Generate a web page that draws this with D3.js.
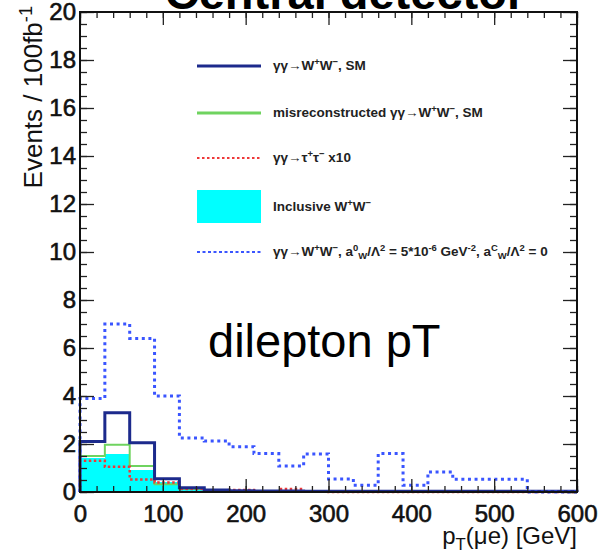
<!DOCTYPE html>
<html>
<head>
<meta charset="utf-8">
<script src="https://cdn.jsdelivr.net/npm/d3@7"></script>
<style>
  body { margin: 0; background: #fff; }
  svg { display: block; font-family: "Liberation Sans", Arial, sans-serif; }
</style>
</head>
<body>
<div id="chart"></div>
<script>
// bin edges in GeV (30 GeV bins)
var binEdges = [0, 30, 60, 90, 120, 150, 180, 210, 240, 270, 300, 330, 360, 390, 420, 450, 480, 510, 540, 570, 600];

// events / 100 fb^-1 per bin
var smWW        = [2.1, 3.3, 2.05, 0.55, 0.18, 0.08, 0.05, 0.04, 0.04, 0.03, 0.03, 0.03, 0.03, 0.03, 0.03, 0.03, 0.03, 0.03, 0.03, 0.03];
var misrecoWW   = [1.5, 1.97, 1.08, 0.32, 0.12, 0.05, 0.04, 0.02, 0, 0, 0, 0, 0, 0, 0, 0, 0, 0, 0, 0];
var tautauX10   = [1.3, 1.05, 0.52, 0.4, 0.12, 0.05, 0.08, 0.03, 0.12, 0.02, 0, 0, 0, 0, 0, 0, 0, 0, 0, 0];
var inclusiveWW = [1.4, 1.6, 0.92, 0.42, 0.1, 0.03, 0.01, 0, 0, 0, 0, 0, 0, 0, 0, 0, 0, 0, 0, 0];
var anomalousWW = [3.9, 7.0, 6.4, 4.0, 2.25, 2.12, 1.89, 1.6, 1.08, 1.58, 0.54, 0.28, 1.6, 0.28, 0.83, 0.53, 0.53, 0.53, 0, 0];

var xTicks = [0, 100, 200, 300, 400, 500, 600];
var yTicks = [0, 2, 4, 6, 8, 10, 12, 14, 16, 18, 20];

var W = 604, H = 556;
var margin = {top: 12, right: 27, bottom: 64, left: 80};
var width = W - margin.left - margin.right,
    height = H - margin.top - margin.bottom;

var svg = d3.select("#chart").append("svg")
    .attr("width", W)
    .attr("height", H);

// title, cut off at the top like in the original
svg.append("text")
    .attr("x", 345).attr("y", 9)
    .attr("text-anchor", "middle")
    .style("font-size", "47px").style("font-weight", "bold")
    .text("Central detector");

var g = svg.append("g")
    .attr("transform", "translate(" + margin.left + "," + margin.top + ")");

var x = d3.scaleLinear().domain([0, 600]).range([0, width]);
var y = d3.scaleLinear().domain([0, 20]).range([height, 0]);

// step outline for a histogram
function stepPoints(vals) {
    var pts = [[binEdges[0], 0]];
    vals.forEach(function (v, i) {
        pts.push([binEdges[i], v]);
        pts.push([binEdges[i + 1], v]);
    });
    pts.push([binEdges[binEdges.length - 1], 0]);
    return pts;
}
var line = d3.line()
    .x(function (d) { return x(d[0]); })
    .y(function (d) { return y(d[1]); });

// inclusive WW, filled
g.selectAll(".incl")
    .data(inclusiveWW)
    .enter().append("rect")
    .attr("class", "incl")
    .attr("x", function (d, i) { return x(binEdges[i]); })
    .attr("width", function (d, i) { return x(binEdges[i + 1]) - x(binEdges[i]); })
    .attr("y", function (d) { return y(d); })
    .attr("height", function (d) { return y(0) - y(d); })
    .style("fill", "#00ffff")
    .style("shape-rendering", "crispEdges");

var series = [
    {vals: misrecoWW,   color: "#6fd35f", w: 2,   dash: null},
    {vals: tautauX10,   color: "#ee3838", w: 2.5, dash: "2.5,2.5"},
    {vals: smWW,        color: "#1c2a8c", w: 3,   dash: null},
    {vals: anomalousWW, color: "#3a55ff", w: 3,   dash: "3,3.6"}
];
series.forEach(function (s) {
    g.append("path")
        .datum(stepPoints(s.vals))
        .attr("d", line)
        .style("fill", "none")
        .style("stroke", s.color)
        .style("stroke-width", s.w)
        .style("stroke-dasharray", s.dash);
});

// axes, ticks pointing inward on all four sides
function styleAxis(sel) {
    sel.select(".domain").remove();
    sel.selectAll("line").style("stroke", "#222").style("stroke-width", 1.3);
    sel.selectAll("text")
        .style("font-size", "24px")
        .style("fill", "#111")
        .style("stroke", "#111").style("stroke-width", 0.6)
        .style("font-family", "'Liberation Sans', Arial, sans-serif");
}
var xMinor = x.ticks(30), yMinor = y.ticks(40);

g.append("g").attr("transform", "translate(0," + height + ")")
    .call(d3.axisBottom(x).tickValues(xMinor).tickSize(-6).tickFormat(""))
    .call(styleAxis);
g.append("g").attr("transform", "translate(0," + height + ")")
    .call(d3.axisBottom(x).tickValues(xTicks).tickSize(-13).tickPadding(13).tickFormat(d3.format("d")))
    .call(styleAxis);
g.append("g")
    .call(d3.axisTop(x).tickValues(xMinor).tickSize(-6).tickFormat(""))
    .call(styleAxis);
g.append("g")
    .call(d3.axisTop(x).tickValues(xTicks).tickSize(-13).tickFormat(""))
    .call(styleAxis);

g.append("g")
    .call(d3.axisLeft(y).tickValues(yMinor).tickSize(-7).tickFormat(""))
    .call(styleAxis);
g.append("g")
    .call(d3.axisLeft(y).tickValues(yTicks).tickSize(-14).tickPadding(4).tickFormat(d3.format("d")))
    .call(styleAxis);
g.append("g").attr("transform", "translate(" + width + ",0)")
    .call(d3.axisRight(y).tickValues(yMinor).tickSize(-7).tickFormat(""))
    .call(styleAxis);
g.append("g").attr("transform", "translate(" + width + ",0)")
    .call(d3.axisRight(y).tickValues(yTicks).tickSize(-14).tickFormat(""))
    .call(styleAxis);

// frame
g.append("rect")
    .attr("width", width).attr("height", height)
    .style("fill", "none").style("stroke", "#111").style("stroke-width", 2);

// rich text with super/subscripts
function rich(sel, parts, size) {
    var cur = 0;
    parts.forEach(function (p) {
        var target = 0, fs = size;
        if (p[1] === "sup") { target = -0.38 * size; fs = 0.7 * size; }
        if (p[1] === "sub") { target = 0.25 * size; fs = 0.7 * size; }
        sel.append("tspan")
            .attr("dy", target - cur)
            .style("font-size", fs + "px")
            .text(p[0]);
        cur = target;
    });
}

// axis titles
var yt = svg.append("text")
    .attr("transform", "translate(42,6) rotate(-90)")
    .attr("text-anchor", "end")
    .style("fill", "#111");
rich(yt, [["Events / 100fb", ""], ["-1", "sup"]], 26);

var xt = svg.append("text")
    .attr("x", 577).attr("y", 544)
    .attr("text-anchor", "end")
    .style("fill", "#111");
rich(xt, [["p", ""], ["T", "sub"], ["(\u03bce) [GeV]", ""]], 24);

// annotation
g.append("text")
    .attr("x", 128).attr("y", 345)
    .style("font-size", "47px")
    .text("dilepton pT");

// legend
var legendItems = [
    {y: 66,  type: "line", color: "#1c2a8c", w: 3, dash: null,
     parts: [["\u03b3\u03b3\u2192W", ""], ["+", "sup"], ["W", ""], ["\u2212", "sup"], [", SM", ""]]},
    {y: 113, type: "line", color: "#6fd35f", w: 3, dash: null,
     parts: [["misreconstructed ", ""], ["\u03b3\u03b3\u2192W", ""], ["+", "sup"], ["W", ""], ["\u2212", "sup"], [", SM", ""]]},
    {y: 158, type: "line", color: "#ee3838", w: 2, dash: "2.5,2.5",
     parts: [["\u03b3\u03b3\u2192\u03c4", ""], ["+", "sup"], ["\u03c4", ""], ["\u2212", "sup"], [" x10", ""]]},
    {y: 207, type: "box", color: "#00ffff",
     parts: [["Inclusive W", ""], ["+", "sup"], ["W", ""], ["\u2212", "sup"]]},
    {y: 252, type: "line", color: "#3a55ff", w: 2, dash: "3,2.5",
     parts: [["\u03b3\u03b3\u2192W", ""], ["+", "sup"], ["W", ""], ["\u2212", "sup"], [", a", ""], ["0", "sup"], ["W", "sub"],
             ["/\u039b", ""], ["2", "sup"], [" = 5*10", ""], ["-6", "sup"], [" GeV", ""], ["-2", "sup"], [", a", ""], ["C", "sup"], ["W", "sub"],
             ["/\u039b", ""], ["2", "sup"], [" = 0", ""]]}
];
var leg = svg.append("g");
legendItems.forEach(function (d) {
    if (d.type === "box") {
        leg.append("rect")
            .attr("x", 197).attr("y", d.y - 17)
            .attr("width", 64).attr("height", 33)
            .style("fill", d.color);
    } else {
        leg.append("line")
            .attr("x1", 197).attr("x2", 261)
            .attr("y1", d.y).attr("y2", d.y)
            .style("stroke", d.color)
            .style("stroke-width", d.w)
            .style("stroke-dasharray", d.dash);
    }
    var t = leg.append("text")
        .attr("x", 273).attr("y", d.y + 4)
        .style("font-weight", "bold")
        .style("fill", "#222");
    rich(t, d.parts, 13.5);
});
</script>
</body>
</html>
